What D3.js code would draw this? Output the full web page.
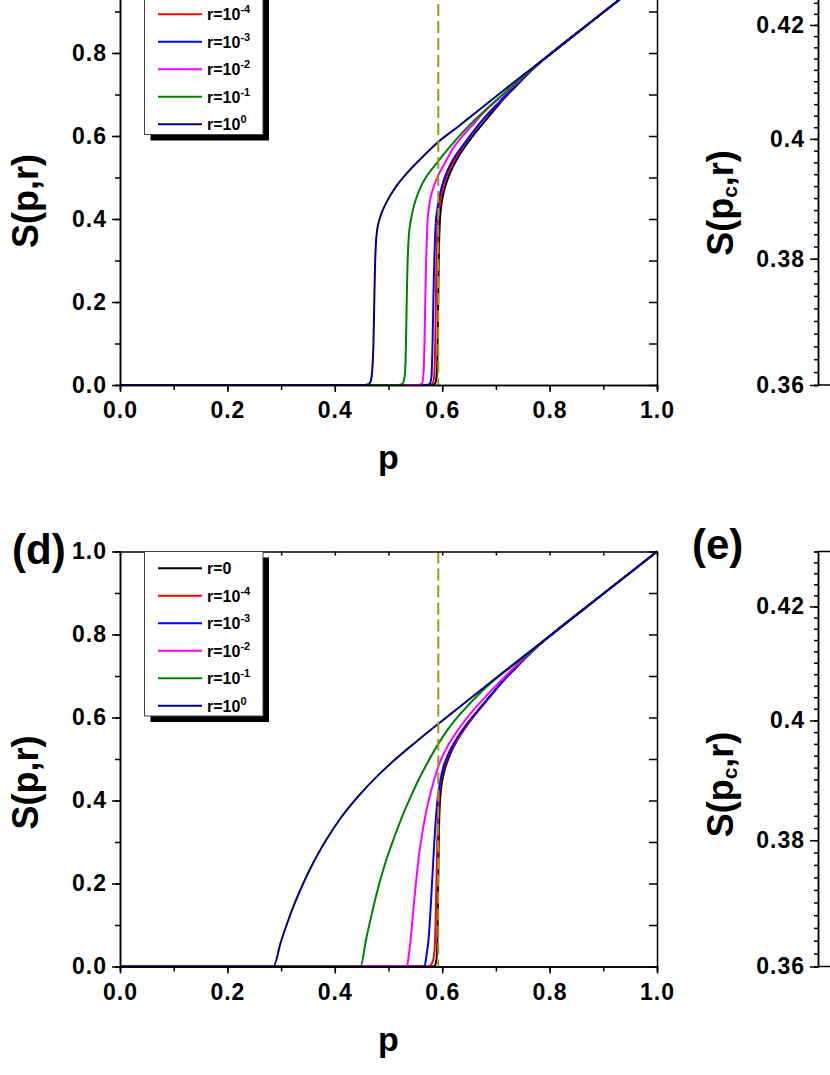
<!DOCTYPE html>
<html>
<head>
<meta charset="utf-8">
<title>S(p,r)</title>
<style>
  body { margin: 0; background: #fff; }
  svg text { font-family: Arial, "Liberation Sans", sans-serif; font-weight: bold; fill: #000; }
  .axis path, .axis line { stroke: #000; stroke-width: 1.5; }
</style>
</head>
<body>
<script src="https://d3js.org/d3.v7.min.js"></script>
<script>
// ---- data ----
var rExps   = [null, "-4", "-3", "-2", "-1", "0"];          // r=0, r=10^-4 ... r=10^0
var colors  = ["#000000", "#ff0000", "#0000ff", "#ff00ff", "#008000", "#000080"];
var pTicks  = [0, 0.2, 0.4, 0.6, 0.8, 1.0];
var sTicks  = [0, 0.2, 0.4, 0.6, 0.8, 1.0];
var scTicks = [0.36, 0.38, 0.4, 0.42];
var scLabels = ["0.36", "0.38", "0.4", "0.42"];
var pc = 0.5927;

// upper panel, abrupt onset
var topR0 = [[0,0],[0.582,0],[0.587,0.004],[0.5895,0.02],[0.591,0.06],[0.592,0.15],[0.593,0.25],[0.594,0.33],[0.5955,0.39],[0.598,0.43],[0.602,0.46],[0.608,0.488],[0.616,0.515],[0.627,0.543],[0.645,0.579],[0.665,0.613],[0.69,0.652],[0.708,0.68],[0.735,0.717],[0.76,0.75],[0.78,0.774],[0.8,0.796],[0.9,0.898],[1,1]];
var topR4 = [[0,0],[0.576,0],[0.582,0.003],[0.585,0.02],[0.587,0.1],[0.588,0.18],[0.589,0.28],[0.5905,0.36],[0.592,0.4],[0.595,0.435],[0.6,0.47],[0.609,0.505],[0.618,0.53],[0.627,0.551],[0.64,0.578],[0.658,0.61],[0.68,0.645],[0.708,0.683],[0.735,0.719],[0.76,0.751],[0.78,0.775],[0.8,0.796],[0.9,0.898],[1,1]];
var topR3 = [[0,0],[0.57,0],[0.577,0.003],[0.58,0.02],[0.582,0.1],[0.5835,0.2],[0.585,0.29],[0.5865,0.35],[0.588,0.39],[0.591,0.425],[0.595,0.455],[0.602,0.49],[0.611,0.52],[0.621,0.545],[0.64,0.58],[0.658,0.611],[0.68,0.646],[0.708,0.684],[0.735,0.72],[0.76,0.751],[0.78,0.775],[0.8,0.796],[0.9,0.898],[1,1]];
var topR2 = [[0,0],[0.555,0],[0.562,0.003],[0.565,0.025],[0.567,0.1],[0.568,0.17],[0.5695,0.27],[0.571,0.34],[0.5725,0.39],[0.575,0.425],[0.579,0.455],[0.584,0.477],[0.59,0.497],[0.596,0.514],[0.605,0.535],[0.621,0.572],[0.64,0.603],[0.658,0.629],[0.68,0.66],[0.708,0.693],[0.735,0.724],[0.76,0.753],[0.78,0.775],[0.8,0.796],[0.9,0.898],[1,1]];
var topR1 = [[0,0],[0.518,0],[0.526,0.003],[0.53,0.02],[0.532,0.07],[0.5335,0.17],[0.535,0.27],[0.5365,0.33],[0.539,0.375],[0.542,0.4],[0.546,0.425],[0.553,0.455],[0.561,0.48],[0.571,0.503],[0.582,0.522],[0.593,0.54],[0.61,0.567],[0.627,0.593],[0.65,0.625],[0.67,0.65],[0.69,0.674],[0.71,0.697],[0.733,0.723],[0.76,0.753],[0.78,0.775],[0.8,0.796],[0.9,0.898],[1,1]];
var topRn = [[0,0],[0.455,0],[0.463,0.002],[0.467,0.01],[0.47,0.04],[0.472,0.1],[0.4735,0.2],[0.475,0.29],[0.4765,0.34],[0.479,0.375],[0.483,0.398],[0.488,0.417],[0.495,0.437],[0.503,0.456],[0.515,0.48],[0.534,0.51],[0.56,0.545],[0.593,0.586],[0.63,0.623],[0.658,0.652],[0.7,0.695],[0.74,0.736],[0.8,0.796],[0.9,0.898],[1,1]];

// lower panel, continuous onset
var botR0 = [[0,0],[0.582,0],[0.587,0.004],[0.5895,0.02],[0.591,0.06],[0.592,0.15],[0.593,0.25],[0.594,0.33],[0.5955,0.39],[0.598,0.43],[0.602,0.46],[0.608,0.488],[0.616,0.515],[0.627,0.543],[0.645,0.579],[0.665,0.613],[0.69,0.652],[0.708,0.68],[0.735,0.717],[0.76,0.75],[0.78,0.774],[0.8,0.796],[0.9,0.898],[1,1]];
var botR4 = [[0,0],[0.574,0],[0.579,0.004],[0.583,0.015],[0.586,0.045],[0.588,0.12],[0.5895,0.22],[0.591,0.305],[0.593,0.38],[0.595,0.425],[0.599,0.458],[0.606,0.49],[0.615,0.518],[0.627,0.545],[0.645,0.58],[0.665,0.613],[0.69,0.652],[0.708,0.68],[0.735,0.717],[0.76,0.75],[0.78,0.774],[0.8,0.796],[0.9,0.898],[1,1]];
var botR3 = [[0,0],[0.567,0],[0.5705,0.025],[0.5745,0.064],[0.578,0.13],[0.581,0.2],[0.584,0.27],[0.587,0.335],[0.59,0.385],[0.593,0.42],[0.597,0.452],[0.602,0.48],[0.61,0.508],[0.621,0.536],[0.64,0.574],[0.665,0.615],[0.69,0.653],[0.708,0.681],[0.735,0.718],[0.76,0.75],[0.78,0.774],[0.8,0.796],[0.9,0.898],[1,1]];
var botR2 = [[0,0],[0.534,0],[0.538,0.03],[0.542,0.075],[0.5465,0.14],[0.551,0.2],[0.556,0.26],[0.563,0.322],[0.571,0.378],[0.584,0.445],[0.596,0.493],[0.608,0.526],[0.621,0.554],[0.643,0.594],[0.665,0.628],[0.69,0.663],[0.708,0.687],[0.735,0.722],[0.76,0.752],[0.78,0.775],[0.8,0.796],[0.9,0.898],[1,1]];
var botR1 = [[0,0],[0.448,0],[0.458,0.064],[0.468,0.122],[0.478,0.176],[0.493,0.245],[0.509,0.305],[0.525,0.36],[0.54,0.405],[0.556,0.45],[0.571,0.487],[0.593,0.537],[0.612,0.574],[0.634,0.609],[0.665,0.652],[0.696,0.689],[0.725,0.719],[0.76,0.753],[0.78,0.775],[0.8,0.796],[0.9,0.898],[1,1]];
var botRn = [[0,0],[0.2857,0],[0.2995,0.059],[0.311,0.103],[0.323,0.145],[0.338,0.191],[0.354,0.235],[0.37,0.274],[0.385,0.307],[0.41,0.356],[0.447,0.415],[0.48,0.46],[0.509,0.495],[0.55,0.54],[0.593,0.585],[0.63,0.623],[0.665,0.659],[0.7,0.695],[0.745,0.741],[0.8,0.796],[0.9,0.898],[1,1]];

// ---- layout ----
var W = 830, H = 1075;
var svg = d3.select("body").append("svg").attr("width", W).attr("height", H);

var x = d3.scaleLinear().domain([0, 1]).range([120, 657]);
var rightX = 818;

var panels = [
  { bottom: 385,   top: -30,   series: [topR0, topR4, topR3, topR2, topR1, topRn], label: null, rlabel: null },
  { bottom: 966.5, top: 551.5, series: [botR0, botR4, botR3, botR2, botR1, botRn], label: "(d)", rlabel: "(e)" }
];

var fmt = d3.format(".1f");
var minorP = d3.range(0, 11).map(function(k) { return k / 10; });
var minorSc = d3.range(180, 216).map(function(k) { return k / 500; });

function tickText(sel) {
  sel.selectAll("text").style("font-size", "23px").style("letter-spacing", "1px");
}

panels.forEach(function(pn) {
  var y = d3.scaleLinear().domain([0, 1]).range([pn.bottom, pn.top]);
  var g = svg.append("g");

  // curves, black first so navy ends on top
  var line = d3.line()
      .x(function(d) { return x(d[0]); })
      .y(function(d) { return y(d[1]); })
      .curve(d3.curveMonotoneX);

  g.selectAll("path.curve")
    .data(pn.series)
    .enter().append("path")
      .attr("class", "curve")
      .attr("d", line)
      .attr("fill", "none")
      .attr("stroke", function(d, i) { return colors[i]; })
      .attr("stroke-width", 2);

  // p_c marker
  g.append("path")
      .attr("d", d3.line().x(function(d) { return x(d[0]); }).y(function(d) { return y(d[1]); })([[pc, 1], [pc, 0]]))
      .attr("stroke", "#9c9818")
      .attr("stroke-width", 2)
      .attr("stroke-dasharray", "12,5")
      .attr("fill", "none");

  // axes: bottom & left with labels, top & right mirrored inward
  g.append("g").attr("class", "axis").attr("transform", "translate(0," + pn.bottom + ")")
      .call(d3.axisBottom(x).tickValues(minorP).tickSize(5).tickFormat(""));
  g.append("g").attr("class", "axis").attr("transform", "translate(0," + pn.bottom + ")")
      .call(d3.axisBottom(x).tickValues(pTicks).tickSizeInner(7).tickSizeOuter(0).tickPadding(10).tickFormat(fmt))
      .call(tickText);

  g.append("g").attr("class", "axis").attr("transform", "translate(120,0)")
      .call(d3.axisLeft(y).tickValues(minorP).tickSize(5).tickFormat(""));
  g.append("g").attr("class", "axis").attr("transform", "translate(120,0)")
      .call(d3.axisLeft(y).tickValues(sTicks).tickSizeInner(8).tickSizeOuter(0).tickPadding(5).tickFormat(fmt))
      .call(tickText);

  g.append("g").attr("class", "axis").attr("transform", "translate(0," + pn.top + ")")
      .call(d3.axisBottom(x).tickValues(minorP).tickSizeInner(4).tickSizeOuter(0).tickFormat(""));
  g.append("g").attr("class", "axis").attr("transform", "translate(657,0)")
      .call(d3.axisLeft(y).tickValues(minorP).tickSizeInner(8).tickSizeOuter(0).tickFormat(""));

  // axis titles
  g.append("text")
      .attr("transform", "translate(37.5," + (pn.bottom - 184) + ") rotate(-90)")
      .attr("text-anchor", "middle")
      .style("font-size", "36px")
      .text("S(p,r)");
  g.append("text")
      .attr("x", 388.5).attr("y", pn.bottom + 84)
      .attr("text-anchor", "middle")
      .style("font-size", "34px")
      .text("p");

  // legend
  var lg = g.append("g").attr("transform", "translate(144.5," + pn.top + ")");
  lg.append("rect").attr("x", 6).attr("y", 6).attr("width", 118.5).attr("height", 164.5).attr("fill", "#000");
  lg.append("rect").attr("x", 0).attr("y", 0).attr("width", 118.5).attr("height", 164.5)
      .attr("fill", "#fff").attr("stroke", "#444").attr("stroke-width", 1);
  var item = lg.selectAll("g.item").data(rExps).enter().append("g")
      .attr("class", "item")
      .attr("transform", function(d, i) { return "translate(0," + (16.8 + i * 27.5) + ")"; });
  item.append("line").attr("x1", 13.5).attr("x2", 57.5).attr("y1", 0).attr("y2", 0)
      .attr("stroke", function(d, i) { return colors[i]; }).attr("stroke-width", 2);
  var t = item.append("text").attr("x", 62.5).attr("dy", "0.37em").style("font-size", "16px")
      .text(function(d) { return d === null ? "r=0" : "r=10"; });
  t.filter(function(d) { return d !== null; })
    .append("tspan").attr("dy", -7).style("font-size", "11px").text(function(d) { return d; });

  if (pn.label) {
    g.append("text").attr("x", 12).attr("y", pn.bottom - 402.5)
        .style("font-size", "42px").text(pn.label);
  }

  // right-hand panel: only its y axis is in view
  var ys = d3.scaleLog().domain([0.36, 0.43]).range([pn.bottom, pn.top]);
  var rg = svg.append("g");
  rg.append("g").attr("class", "axis").attr("transform", "translate(" + rightX + ",0)")
      .call(d3.axisLeft(ys).tickValues(minorSc).tickSize(4).tickFormat(""));
  rg.append("g").attr("class", "axis").attr("transform", "translate(" + rightX + ",0)")
      .call(d3.axisLeft(ys).tickValues(scTicks).tickSizeInner(8).tickSizeOuter(0).tickPadding(5)
            .tickFormat(function(d, i) { return scLabels[i]; }))
      .call(tickText);
  rg.append("path")
      .attr("d", "M" + rightX + "," + pn.bottom + "H" + W + "M" + rightX + "," + pn.top + "H" + W)
      .attr("stroke", "#000").attr("stroke-width", 1.5);

  var yt = rg.append("text")
      .attr("transform", "translate(733," + (pn.bottom - 182) + ") rotate(-90)")
      .attr("text-anchor", "middle")
      .style("font-size", "36px");
  yt.append("tspan").text("S(p");
  yt.append("tspan").attr("dy", 4).style("font-size", "21px").text("c");
  yt.append("tspan").attr("dy", -4).text(",r)");

  if (pn.rlabel) {
    rg.append("text").attr("x", 692).attr("y", pn.bottom - 408)
        .style("font-size", "42px").text(pn.rlabel);
  }
});

// texts that land wholly above the page (the figure is cropped there) are dropped
svg.selectAll("text").each(function() {
  var b = this.getBoundingClientRect();
  if (b.bottom <= 0) d3.select(this).remove();
});
</script>
</body>
</html>
